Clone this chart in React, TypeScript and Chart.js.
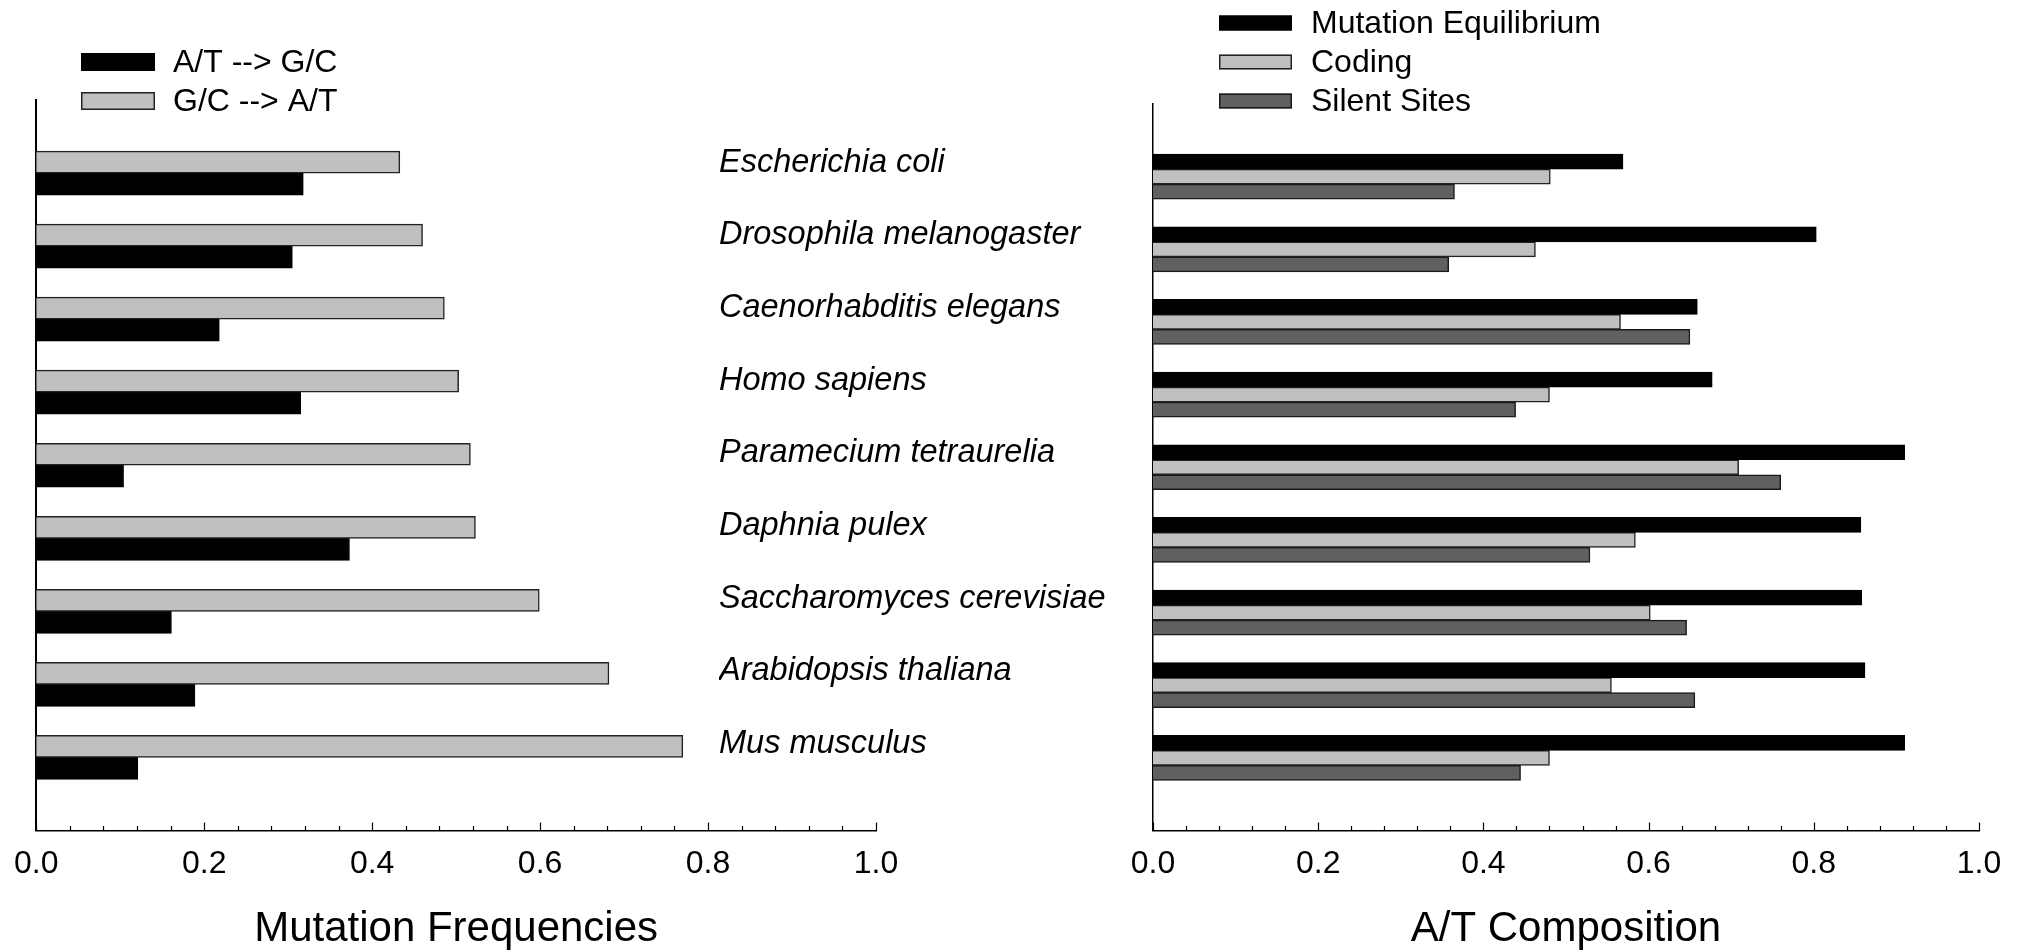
import React, { useEffect, useRef } from "react";
import { Chart, registerables } from "chart.js";

Chart.register(...registerables);

const FONT = "Liberation Sans";

const species = [
  "Escherichia coli",
  "Drosophila melanogaster",
  "Caenorhabditis elegans",
  "Homo sapiens",
  "Paramecium tetraurelia",
  "Daphnia pulex",
  "Saccharomyces cerevisiae",
  "Arabidopsis thaliana",
  "Mus musculus",
];

const atToGc = [0.318, 0.305, 0.218, 0.315, 0.104, 0.373, 0.161, 0.189, 0.121];
const gcToAt = [0.433, 0.46, 0.486, 0.503, 0.517, 0.523, 0.599, 0.682, 0.77];

const mutationEquilibrium = [0.569, 0.803, 0.659, 0.677, 0.91, 0.857, 0.858, 0.862, 0.91];
const coding = [0.481, 0.463, 0.566, 0.48, 0.709, 0.584, 0.602, 0.555, 0.48];
const silentSites = [0.365, 0.358, 0.65, 0.439, 0.76, 0.529, 0.646, 0.656, 0.445];

const toPoints = (vals: number[]) => vals.map((v, i) => ({ x: v, y: i }));

type LegendEntry = { ds: number; y: number };

function makeLegendPlugin(id: string, entries: LegendEntry[], boxX: number, boxW: number, boxH: number, textX: number, fontSize: number) {
  return {
    id,
    afterDraw(chart: any) {
      const ctx = chart.ctx as CanvasRenderingContext2D;
      ctx.save();
      for (const e of entries) {
        const ds = chart.data.datasets[e.ds];
        const top = e.y - boxH / 2;
        ctx.fillStyle = ds.backgroundColor;
        ctx.fillRect(boxX, top, boxW, boxH);
        ctx.lineWidth = 1.5;
        ctx.strokeStyle = ds.borderColor;
        ctx.strokeRect(boxX + 0.75, top + 0.75, boxW - 1.5, boxH - 1.5);
        ctx.fillStyle = "#000";
        ctx.font = `${fontSize}px "${FONT}"`;
        ctx.textBaseline = "middle";
        ctx.textAlign = "left";
        ctx.fillText(ds.label, textX, e.y + 1);
      }
      ctx.restore();
    },
  };
}

const minorTickPlugin = {
  id: "minorTicks",
  afterDraw(chart: any) {
    const s = chart.scales.x;
    const ctx = chart.ctx as CanvasRenderingContext2D;
    ctx.save();
    ctx.strokeStyle = "#000";
    ctx.lineWidth = 1.2;
    const y0 = s.top;
    for (let k = 0; k <= 25; k++) {
      const v = k * 0.04;
      const px = Math.round(s.getPixelForValue(v)) + 0.5;
      const len = k % 5 === 0 ? 8 : 4.5;
      ctx.beginPath();
      ctx.moveTo(px, y0);
      ctx.lineTo(px, y0 - len);
      ctx.stroke();
    }
    ctx.restore();
  },
};

function xScale(title: string, borderWidth: number) {
  return {
    type: "linear",
    position: "bottom",
    min: 0,
    max: 1,
    offset: false,
    ticks: {
      stepSize: 0.2,
      autoSkip: false,
      maxRotation: 0,
      padding: 14,
      color: "#000",
      font: { family: FONT, size: 32 },
      callback: (v: any) => Number(v).toFixed(1),
    },
    grid: { display: false, drawTicks: false },
    border: { display: true, color: "#000", width: borderWidth },
    title: {
      display: true,
      text: title,
      color: "#000",
      font: { family: FONT, size: 42, lineHeight: 1 },
      padding: { top: 0, bottom: 0 },
    },
    afterFit: (s: any) => {
      s.height = 119.5;
    },
  };
}

export default function App() {
  const leftRef = useRef<HTMLCanvasElement>(null);
  const rightRef = useRef<HTMLCanvasElement>(null);

  useEffect(() => {
    Chart.defaults.font.family = FONT;
    Chart.defaults.color = "#000";

    const left = new Chart(leftRef.current as HTMLCanvasElement, {
      type: "bar",
      data: {
        datasets: [
          {
            label: "G/C --> A/T",
            data: toPoints(gcToAt),
            backgroundColor: "#c0c0c0",
            borderColor: "#222222",
            borderWidth: 1.5,
            barThickness: 22,
          },
          {
            label: "A/T --> G/C",
            data: toPoints(atToGc),
            backgroundColor: "#000000",
            borderColor: "#000000",
            borderWidth: 1,
            barThickness: 22,
          },
        ],
      } as any,
      options: {
        indexAxis: "y",
        animation: false,
        responsive: false,
        devicePixelRatio: 1,
        layout: { padding: { left: 36, right: 1149, top: 100, bottom: 0 } },
        plugins: { legend: { display: false }, tooltip: { enabled: false } },
        scales: {
          x: xScale("Mutation Frequencies", 1.5) as any,
          y: {
            type: "linear",
            min: -1,
            max: 9,
            offset: false,
            reverse: true,
            ticks: { display: false },
            grid: { display: false, drawTicks: false, offset: false },
            border: { display: true, color: "#000", width: 2 },
            afterFit: (s: any) => {
              s.width = 0;
            },
          } as any,
        },
      } as any,
      plugins: [
        minorTickPlugin,
        makeLegendPlugin("legendLeft", [{ ds: 1, y: 62 }, { ds: 0, y: 101 }], 81, 74, 18, 173, 32),
      ],
    });

    const right = new Chart(rightRef.current as HTMLCanvasElement, {
      type: "bar",
      data: {
        datasets: [
          {
            label: "Mutation Equilibrium",
            data: toPoints(mutationEquilibrium),
            backgroundColor: "#000000",
            borderColor: "#000000",
            borderWidth: 1,
            barThickness: 15,
          },
          {
            label: "Coding",
            data: toPoints(coding),
            backgroundColor: "#c0c0c0",
            borderColor: "#222222",
            borderWidth: 1.5,
            barThickness: 15,
          },
          {
            label: "Silent Sites",
            data: toPoints(silentSites),
            backgroundColor: "#606060",
            borderColor: "#1a1a1a",
            borderWidth: 1.5,
            barThickness: 15,
          },
        ],
      } as any,
      options: {
        indexAxis: "y",
        animation: false,
        responsive: false,
        devicePixelRatio: 1,
        layout: { padding: { left: 719, right: 46, top: 104, bottom: 0 } },
        plugins: { legend: { display: false }, tooltip: { enabled: false } },
        scales: {
          x: xScale("A/T Composition", 1.5) as any,
          y: {
            type: "linear",
            min: -1,
            max: 9,
            offset: false,
            reverse: true,
            ticks: {
              stepSize: 1,
              autoSkip: false,
              crossAlign: "far",
              labelOffset: -14,
              color: "#000",
              font: { family: FONT, size: 32.5, style: "italic" },
              callback: (v: any) => species[Number(v)] ?? "",
            },
            grid: { display: false, drawTicks: false, offset: false },
            border: { display: true, color: "#000", width: 1.5 },
            afterFit: (s: any) => {
              s.width = 1153 - 719;
            },
          } as any,
        },
      } as any,
      plugins: [
        minorTickPlugin,
        makeLegendPlugin("legendRight", [{ ds: 0, y: 23 }, { ds: 1, y: 62 }, { ds: 2, y: 101 }], 1219, 73, 15, 1311, 32),
      ],
    });

    return () => {
      left.destroy();
      right.destroy();
    };
  }, []);

  return (
    <div style={{ position: "fixed", left: 0, top: 0, width: 2025, height: 950, background: "#fff" }}>
      <canvas ref={leftRef} width={2025} height={950} style={{ position: "absolute", left: 0, top: 0 }} />
      <canvas ref={rightRef} width={2025} height={950} style={{ position: "absolute", left: 0, top: 0 }} />
    </div>
  );
}
